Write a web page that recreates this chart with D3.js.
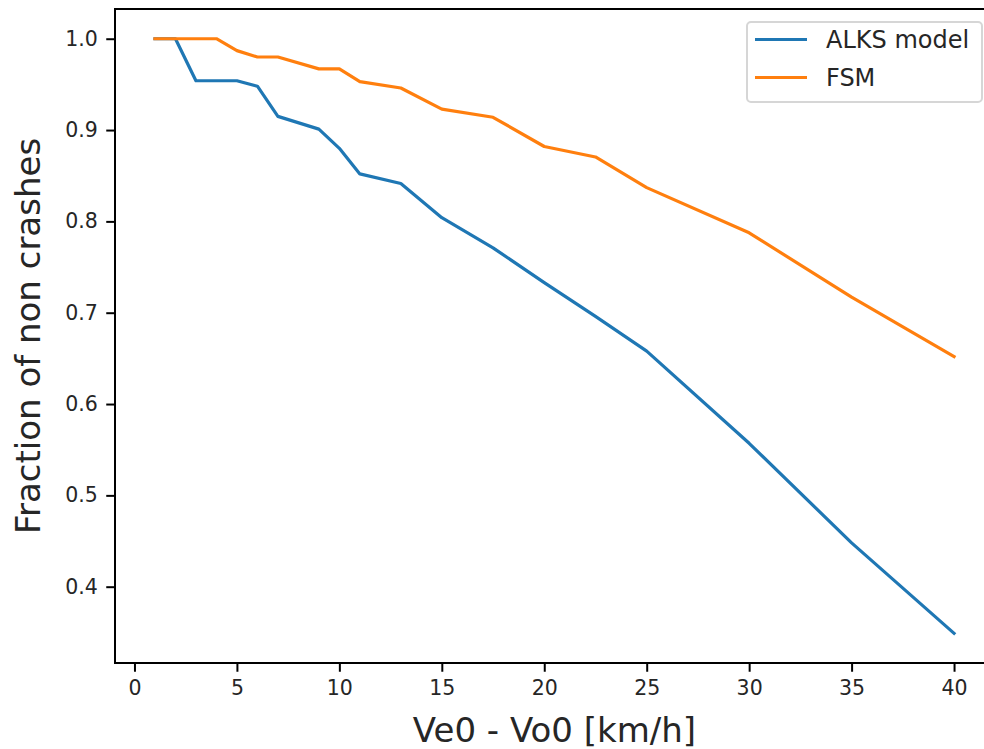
<!DOCTYPE html>
<html>
<head>
<meta charset="utf-8">
<script src="https://cdn.jsdelivr.net/npm/d3@7"></script>
<style>
	body { margin: 0; background: #fff; overflow: hidden; }
	svg { display: block; font-family: "DejaVu Sans", sans-serif; }
</style>
</head>
<body>
<svg></svg>
<script>
// speed difference [km/h]
const speedDiff = [1, 2, 3, 4, 5, 6, 7, 9, 10, 11, 13, 15, 17.5, 20, 22.5, 25, 30, 35, 40]
const alksModel = [1.0, 1.0, 0.954, 0.954, 0.954, 0.948, 0.915, 0.901, 0.880, 0.852, 0.8415, 0.804, 0.771, 0.733, 0.696, 0.658, 0.557, 0.448, 0.349]
const fsm = [1.0, 1.0, 1.0, 1.0, 0.987, 0.980, 0.980, 0.967, 0.967, 0.953, 0.946, 0.923, 0.914, 0.882, 0.8705, 0.837, 0.7875, 0.717, 0.652]
const seriesNames = ['ALKS model', 'FSM']
const seriesColors = ['#1f77b4', '#ff7f0e']
const xTicks = [0, 5, 10, 15, 20, 25, 30, 35, 40]
const yTicks = [0.4, 0.5, 0.6, 0.7, 0.8, 0.9, 1.0]

class Chart {
	constructor(params = {}) {
		this.width = 984
		this.height = 749
		this.margin = {top: 9, right: -10, bottom: 86, left: 115}
		this.tickLen = 8.75
		this.series = params.series
	}

	setupScale() {
		const all = this.series.flatMap(s => s.values)
		const xMin = d3.min(speedDiff), xMax = d3.max(speedDiff)
		const yMin = d3.min(all), yMax = d3.max(all)
		// matplotlib style 5% margins
		const xPad = (xMax - xMin) * 0.05, yPad = (yMax - yMin) * 0.05
		this.x = d3.scaleLinear()
			.domain([xMin - xPad, xMax + xPad])
			.range([this.margin.left, this.width - this.margin.right])
		this.y = d3.scaleLinear()
			.domain([yMin - yPad, yMax + yPad])
			.range([this.height - this.margin.bottom, this.margin.top])
	}

	drawAxes(svg) {
		const bottom = this.height - this.margin.bottom
		const xAxis = svg.append('g')
			.attr('transform', `translate(0,${bottom})`)
			.call(d3.axisBottom(this.x).tickValues(xTicks).tickSize(this.tickLen).tickPadding(8.5).tickSizeOuter(0))
		const yAxis = svg.append('g')
			.attr('transform', `translate(${this.margin.left},0)`)
			.call(d3.axisLeft(this.y).tickValues(yTicks).tickFormat(d3.format('.1f')).tickSize(this.tickLen).tickPadding(8.5).tickSizeOuter(0))

		for (const ax of [xAxis, yAxis]) {
			ax.select('.domain').remove()
			ax.selectAll('line').attr('stroke', '#000').attr('stroke-width', 2)
			ax.selectAll('text').attr('fill', '#262626').attr('font-size', 20.5).attr('font-family', '"DejaVu Sans", sans-serif')
		}

		// frame
		svg.append('rect')
			.attr('x', this.margin.left)
			.attr('y', this.margin.top)
			.attr('width', this.width - this.margin.right - this.margin.left)
			.attr('height', bottom - this.margin.top)
			.attr('fill', 'none')
			.attr('stroke', '#000')
			.attr('stroke-width', 2)

		svg.append('text')
			.attr('x', (this.margin.left + this.width - this.margin.right) / 2)
			.attr('y', 742)
			.attr('text-anchor', 'middle')
			.attr('font-size', 34)
			.attr('fill', '#262626')
			.text('Ve0 - Vo0 [km/h]')

		svg.append('text')
			.attr('transform', `translate(40,${(this.margin.top + bottom) / 2}) rotate(-90)`)
			.attr('text-anchor', 'middle')
			.attr('font-size', 34)
			.attr('fill', '#262626')
			.text('Fraction of non crashes')
	}

	drawLines(svg) {
		const line = d3.line()
			.x((d, i) => this.x(speedDiff[i]))
			.y(d => this.y(d))
		svg.append('g').selectAll('path')
			.data(this.series)
			.enter()
			.append('path')
			.attr('d', s => line(s.values))
			.attr('fill', 'none')
			.attr('stroke', s => s.color)
			.attr('stroke-width', 3.2)
			.attr('stroke-linejoin', 'round')
			.attr('stroke-linecap', 'square')
	}

	drawLegend(svg) {
		const g = svg.append('g').attr('transform', 'translate(747,22)')
		g.append('rect')
			.attr('width', 235)
			.attr('height', 80)
			.attr('rx', 4)
			.attr('fill', '#fff')
			.attr('fill-opacity', 0.8)
			.attr('stroke', '#d6d6d6')
			.attr('stroke-width', 2)
		const rows = g.selectAll('g.row')
			.data(this.series)
			.enter()
			.append('g')
			.attr('class', 'row')
			.attr('transform', (d, i) => `translate(0,${17.5 + i * 38})`)
		rows.append('line')
			.attr('x1', 8).attr('x2', 60)
			.attr('stroke', d => d.color)
			.attr('stroke-width', 3.2)
		rows.append('text')
			.attr('x', 79)
			.attr('dy', '0.36em')
			.attr('font-size', 24)
			.attr('fill', '#262626')
			.text(d => d.name)
	}

	draw() {
		const svg = d3.select('svg')
			.attr('width', this.width)
			.attr('height', this.height)
		this.setupScale()
		this.drawAxes(svg)
		this.drawLines(svg)
		this.drawLegend(svg)
	}
}

const series = [
	{name: seriesNames[0], color: seriesColors[0], values: alksModel},
	{name: seriesNames[1], color: seriesColors[1], values: fsm}
]
new Chart({series: series}).draw()
</script>
</body>
</html>
